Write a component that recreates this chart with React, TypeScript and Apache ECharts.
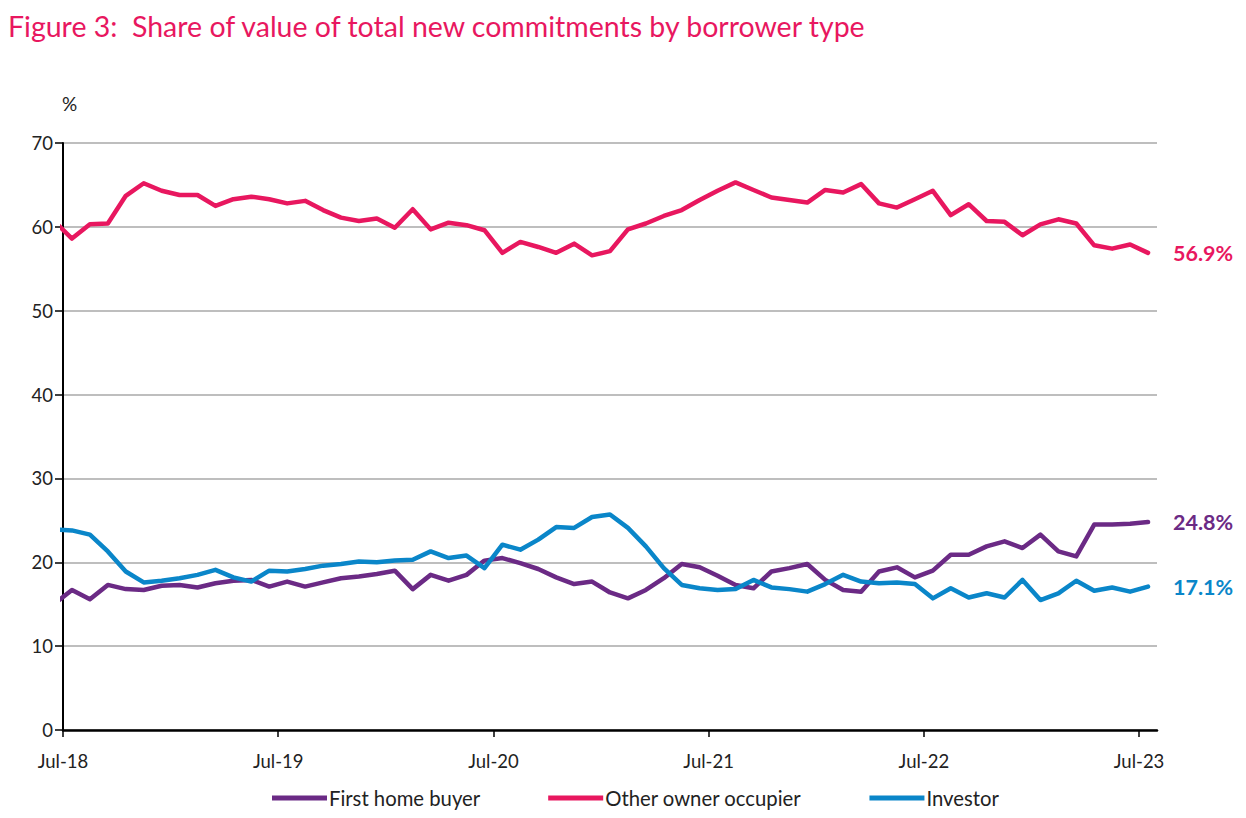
import React, { useEffect, useRef } from "react";
import * as echarts from "echarts";

const months = [
  "Jun-18","Jul-18","Aug-18","Sep-18","Oct-18","Nov-18","Dec-18","Jan-19","Feb-19","Mar-19","Apr-19","May-19","Jun-19",
  "Jul-19","Aug-19","Sep-19","Oct-19","Nov-19","Dec-19","Jan-20","Feb-20","Mar-20","Apr-20","May-20","Jun-20",
  "Jul-20","Aug-20","Sep-20","Oct-20","Nov-20","Dec-20","Jan-21","Feb-21","Mar-21","Apr-21","May-21","Jun-21",
  "Jul-21","Aug-21","Sep-21","Oct-21","Nov-21","Dec-21","Jan-22","Feb-22","Mar-22","Apr-22","May-22","Jun-22",
  "Jul-22","Aug-22","Sep-22","Oct-22","Nov-22","Dec-22","Jan-23","Feb-23","Mar-23","Apr-23","May-23","Jun-23",
  "Jul-23",
];

const firstHomeBuyer = [
  15.0, 16.7, 15.6, 17.3, 16.8, 16.7, 17.2, 17.3, 17.0, 17.5, 17.8, 17.9, 17.1,
  17.7, 17.1, 17.6, 18.1, 18.3, 18.6, 19.0, 16.8, 18.5, 17.8, 18.5, 20.2,
  20.5, 19.9, 19.2, 18.2, 17.4, 17.7, 16.4, 15.7, 16.7, 18.1, 19.8, 19.4,
  18.4, 17.3, 16.9, 18.9, 19.3, 19.8, 17.9, 16.7, 16.5, 18.9, 19.4, 18.2,
  19.0, 20.9, 20.9, 21.9, 22.5, 21.7, 23.3, 21.3, 20.7, 24.5, 24.5, 24.6,
  24.8,
];

const otherOwnerOccupier = [
  60.7, 58.6, 60.3, 60.4, 63.7, 65.2, 64.3, 63.8, 63.8, 62.5, 63.3, 63.6, 63.3,
  62.8, 63.1, 62.0, 61.1, 60.7, 61.0, 59.9, 62.1, 59.7, 60.5, 60.2, 59.6,
  56.9, 58.2, 57.6, 56.9, 58.0, 56.6, 57.1, 59.7, 60.4, 61.3, 62.0, 63.2,
  64.3, 65.3, 64.4, 63.5, 63.2, 62.9, 64.4, 64.1, 65.1, 62.8, 62.3, 63.3,
  64.3, 61.4, 62.7, 60.7, 60.6, 59.0, 60.3, 60.9, 60.4, 57.8, 57.4, 57.9,
  56.9,
];

const investor = [
  23.9, 23.8, 23.3, 21.3, 18.9, 17.6, 17.8, 18.1, 18.5, 19.1, 18.2, 17.7, 19.0,
  18.9, 19.2, 19.6, 19.8, 20.1, 20.0, 20.2, 20.3, 21.3, 20.5, 20.8, 19.3,
  22.1, 21.5, 22.7, 24.2, 24.1, 25.4, 25.7, 24.1, 21.9, 19.3, 17.3, 16.9,
  16.7, 16.8, 17.9, 17.0, 16.8, 16.5, 17.4, 18.5, 17.7, 17.5, 17.6, 17.4,
  15.7, 16.9, 15.8, 16.3, 15.8, 17.9, 15.5, 16.3, 17.8, 16.6, 17.0, 16.5,
  17.1,
];

const tickLabels = ["Jul-18", "Jul-19", "Jul-20", "Jul-21", "Jul-22", "Jul-23"];
const yTicks = [0, 10, 20, 30, 40, 50, 60, 70];

const PINK = "#E8175F";
const PURPLE = "#6B2A85";
const BLUE = "#0A86C9";
const FONT = "Lato";

// month position: each month sits mid-way between month boundaries; Jul-18 boundary = 0
const pos = (i: number) => i - 0.5;
const tickPos = tickLabels.map((t) => months.indexOf(t) - 1);

const toData = (arr: number[]) => arr.map((v, i) => [pos(i), v]);

export default function App() {
  const ref = useRef<HTMLDivElement>(null);
  useEffect(() => {
    if (!ref.current) return;
    const chart = echarts.init(ref.current, undefined, { renderer: "svg" });
    const mkSeries = (name: string, data: number[], color: string) => ({
      name,
      type: "line",
      data: toData(data),
      symbol: "none",
      clip: true,
      lineStyle: { color, width: 4.5, join: "round", cap: "round" },
      itemStyle: { color },
      endLabel: {
        show: true,
        distance: 25,
        color,
        fontFamily: FONT,
        fontWeight: "bold",
        fontSize: 21.5,
        formatter: (p: any) => p.value[1].toFixed(1) + "%",
      },
    });
    chart.setOption({
      animation: false,
      textStyle: { fontFamily: FONT },
      title: {
        text: "Figure 3:  Share of value of total new commitments by borrower type",
        left: 0,
        top: 3,
        padding: 0,
        textStyle: { color: PINK, fontFamily: FONT, fontWeight: "normal", fontSize: 28.5, lineHeight: 30 },
      },
      graphic: [
        {
          type: "text",
          left: 54,
          top: 86,
          style: { text: "%", fontFamily: FONT, fontSize: 19, fill: "#222" },
        },
      ],
      grid: { left: 55, right: 81, top: 135, bottom: 88, containLabel: false },
      legend: {
        top: 780,
        left: 264,
        padding: [0, 0],
        itemWidth: 55,
        itemHeight: 5,
        itemGap: 68,
        icon: "rect",
        textStyle: { fontFamily: FONT, fontSize: 20.3, color: "#222", padding: [0, 0, 0, -3] },
        data: ["First home buyer", "Other owner occupier", "Investor"],
      },
      xAxis: {
        type: "value",
        min: 0,
        max: months.length - 1,
        axisLine: { show: true, lineStyle: { color: "#000", width: 2.5 } },
        axisTick: { show: true, customValues: tickPos, length: 7, lineStyle: { color: "#000", width: 1.5 } },
        axisLabel: {
          customValues: tickPos,
          margin: 21,
          fontFamily: FONT,
          fontSize: 18.5,
          color: "#222",
          formatter: (v: number) => {
            const i = tickPos.indexOf(Math.round(v));
            return i >= 0 ? tickLabels[i] : "";
          },
        },
        splitLine: { show: false },
      },
      yAxis: {
        type: "value",
        min: yTicks[0],
        max: yTicks[yTicks.length - 1],
        interval: 10,
        axisLine: { show: true, lineStyle: { color: "#000", width: 2 } },
        axisTick: { show: true, length: 8, lineStyle: { color: "#000", width: 1.5 } },
        axisLabel: { margin: 10, fontFamily: FONT, fontSize: 18.5, color: "#222" },
        splitLine: { show: true, lineStyle: { color: "#A9A9A9", width: 1.5 } },
      },
      series: [
        mkSeries("First home buyer", firstHomeBuyer, PURPLE),
        mkSeries("Other owner occupier", otherOwnerOccupier, PINK),
        mkSeries("Investor", investor, BLUE),
      ],
    });
    return () => chart.dispose();
  }, []);
  return <div ref={ref} style={{ width: 1230, height: 810 }} />;
}
